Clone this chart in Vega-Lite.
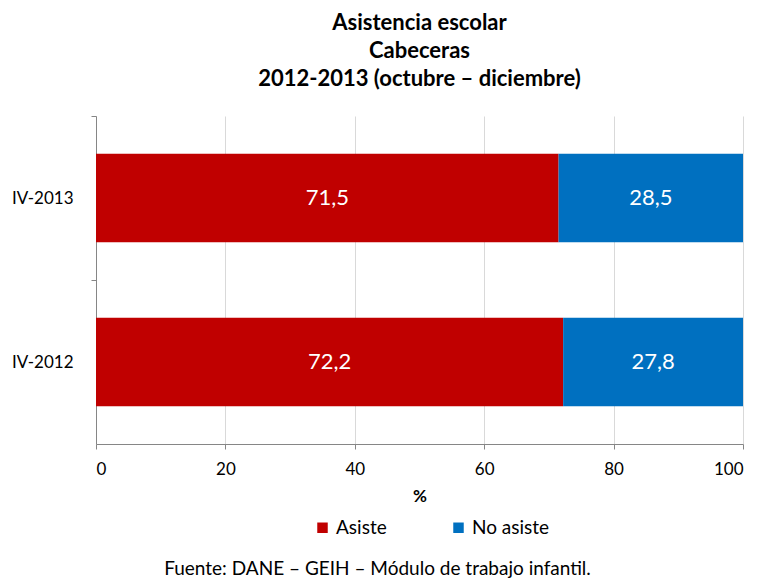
{
  "$schema": "https://vega.github.io/schema/vega-lite/v6.json",
  "padding": {"left": 11, "top": 11, "right": 5, "bottom": 0},
  "title": {
    "text": "Fuente: DANE – GEIH – Módulo de trabajo infantil.",
    "orient": "bottom",
    "font": "Lato",
    "fontSize": 19,
    "fontWeight": "normal",
    "color": "#000000",
    "anchor": "middle",
    "offset": 22
  },
  "config": {
    "locale": {"number": {"decimal": ",", "thousands": ".", "grouping": [3], "currency": ["$", ""]}},
    "view": {"stroke": null},
    "font": "Lato"
  },
  "datasets": {
    "asistencia": [
      {"periodo": "IV-2013", "estado": "Asiste", "valor": 71.5},
      {"periodo": "IV-2013", "estado": "No asiste", "valor": 28.5},
      {"periodo": "IV-2012", "estado": "Asiste", "valor": 72.2},
      {"periodo": "IV-2012", "estado": "No asiste", "valor": 27.8}
    ]
  },
  "vconcat": [
    {
      "width": 647,
      "height": 328,
      "data": {"name": "asistencia"},
      "title": {
        "text": ["Asistencia escolar", "Cabeceras", "2012-2013 (octubre – diciembre)"],
        "font": "Lato",
        "fontSize": 22,
        "fontWeight": "bold",
        "lineHeight": 28,
        "color": "#000000",
        "anchor": "middle",
        "offset": 25
      },
      "encoding": {
        "y": {
          "field": "periodo",
          "type": "nominal",
          "sort": ["IV-2013", "IV-2012"],
          "scale": {"paddingInner": 0.46, "paddingOuter": 0.23},
          "axis": {
            "title": null,
            "tickOffset": -82,
            "labelOffset": 82,
            "domainColor": "#868686",
            "tickColor": "#868686",
            "tickSize": 5,
            "labelFontSize": 17,
            "labelColor": "#000000",
            "labelPadding": 18,
            "grid": false
          }
        }
      },
      "layer": [
        {
          "mark": {"type": "bar"},
          "encoding": {
            "x": {
              "field": "valor",
              "type": "quantitative",
              "stack": "zero",
              "scale": {"domain": [0, 100]},
              "axis": {
                "title": "%",
                "titleFontSize": 17,
                "titleFontWeight": "bold",
                "titleColor": "#000000",
                "titlePadding": 11,
                "values": [0, 20, 40, 60, 80, 100],
                "labelFontSize": 17,
                "labelColor": "#000000",
                "labelPadding": 12,
                "domainColor": "#868686",
                "tickColor": "#868686",
                "tickSize": 5,
                "gridColor": "#D9D9D9"
              }
            },
            "order": {"field": "estado", "sort": "ascending"},
            "color": {
              "field": "estado",
              "type": "nominal",
              "scale": {"domain": ["Asiste", "No asiste"], "range": ["#C00000", "#0070C0"]},
              "legend": {
                "orient": "none",
                "legendX": 217,
                "legendY": 402,
                "direction": "horizontal",
                "title": null,
                "symbolType": "square",
                "symbolSize": 110,
                "symbolStrokeWidth": 0,
                "labelFontSize": 19,
                "labelColor": "#000000",
                "columnPadding": 62
              }
            }
          }
        },
        {
          "mark": {"type": "text", "color": "#FFFFFF", "fontSize": 22, "font": "Lato"},
          "encoding": {
            "x": {"field": "valor", "type": "quantitative", "stack": "zero", "bandPosition": 0.5},
            "order": {"field": "estado", "sort": "ascending"},
            "detail": {"field": "estado"},
            "text": {"field": "valor", "type": "quantitative", "format": ".1f"}
          }
        }
      ]
    }
  ]
}
